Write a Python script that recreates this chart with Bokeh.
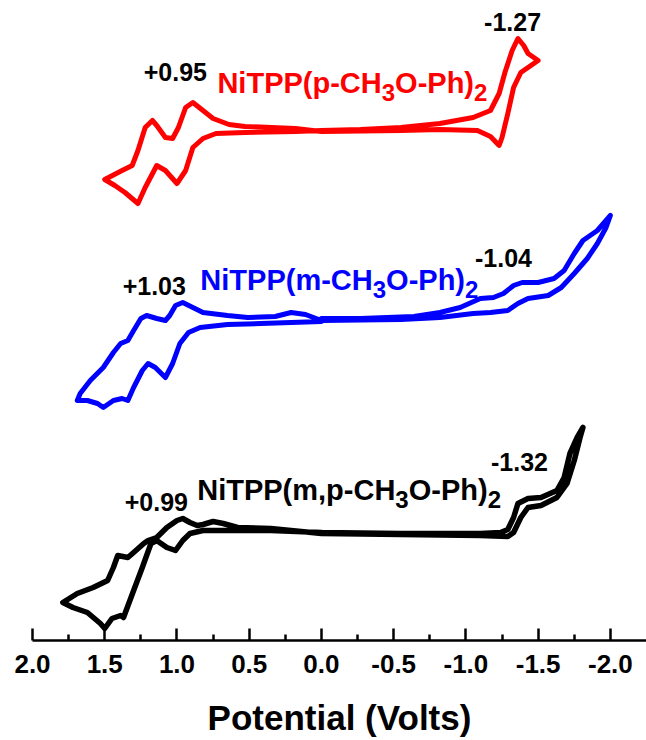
from bokeh.plotting import figure
from bokeh.models import Range1d, FixedTicker
from bokeh.core.properties import value
from bokeh.embed import file_html
from bokeh.resources import INLINE

# ---------------- data (potential in V, current in arbitrary offset units) ----------------
red_E = [0.00, -0.27, -0.55, -0.82, -1.05, -1.17, -1.23, -1.27, -1.32, -1.36, -1.40, -1.43, -1.50,
         -1.45, -1.38, -1.33, -1.29, -1.25, -1.23, -1.17, -1.08, -0.82, -0.55, 0.00,
         0.18, 0.53, 0.64, 0.75, 0.82, 0.89, 0.94, 0.99, 1.03, 1.08, 1.14, 1.17, 1.22, 1.27, 1.31, 1.38, 1.50,
         1.43, 1.36, 1.27, 1.22, 1.14, 1.08, 1.00, 0.94, 0.89, 0.82, 0.73, 0.53, 0.18, 0.00]
red_I = [51.0, 51.1, 51.3, 51.7, 52.3, 53.0, 54.7, 56.8, 59.0, 60.2, 59.5, 58.7, 58.0,
         57.5, 56.8, 55.3, 52.7, 50.3, 49.5, 50.4, 51.0, 51.1, 51.0, 50.9,
         51.2, 51.4, 51.6, 52.2, 53.0, 53.8, 53.3, 51.3, 50.2, 50.3, 51.5, 52.0, 51.3, 49.0, 47.5, 47.0, 46.1,
         45.5, 44.8, 43.7, 45.3, 47.5, 47.0, 45.7, 47.0, 49.3, 50.2, 50.7, 50.8, 50.9, 51.0]

blue_E = [0.00, -0.27, -0.64, -0.82, -0.96, -1.10, -1.19, -1.26, -1.33, -1.39, -1.50, -1.61, -1.68, -1.75,
          -1.81, -1.91, -2.00, -1.97, -1.91, -1.84, -1.75, -1.66, -1.57, -1.43, -1.36, -1.29, -1.17, -1.05,
          -0.82, -0.55, 0.00,
          0.11, 0.21, 0.32, 0.51, 0.65, 0.82, 0.89, 0.96, 1.01, 1.05, 1.08, 1.14, 1.21, 1.25, 1.30, 1.34,
          1.39, 1.44, 1.51, 1.60, 1.67, 1.69,
          1.62, 1.55, 1.51, 1.44, 1.38, 1.34, 1.30, 1.24, 1.20, 1.15, 1.08, 1.03, 0.98, 0.92, 0.84, 0.65,
          0.42, 0.00]
blue_I = [32.2, 32.2, 32.4, 32.8, 33.3, 34.2, 34.3, 34.7, 35.5, 35.8, 35.8, 36.2, 37.0, 38.7,
          40.0, 41.0, 42.5, 41.3, 39.7, 38.2, 36.7, 35.3, 34.5, 34.2, 33.7, 33.0, 32.8, 32.7,
          32.3, 32.1, 32.0,
          32.6, 32.8, 32.4, 32.3, 32.5, 32.8, 33.3, 33.8, 33.5, 32.5, 32.0, 32.2, 32.5, 32.2, 31.0, 30.0,
          29.7, 28.8, 27.3, 26.0, 24.7, 24.0,
          24.0, 23.7, 23.3, 24.0, 24.2, 24.0, 25.3, 27.0, 27.7, 27.3, 26.3, 27.7, 29.7, 30.8, 31.3, 31.6,
          31.7, 31.9]

black_E = [0.00, -0.55, -1.10, -1.24, -1.29, -1.33, -1.36, -1.43, -1.52, -1.63, -1.68, -1.72, -1.77, -1.81,
           -1.79, -1.75, -1.70, -1.63, -1.52, -1.43, -1.38, -1.33, -1.29, -1.10, -0.55, 0.00,
           0.35, 0.58, 0.68, 0.75, 0.82, 0.86, 0.91, 0.96, 1.00, 1.07, 1.14, 1.20, 1.23, 1.30, 1.34, 1.41,
           1.44, 1.48, 1.58, 1.69, 1.79,
           1.72, 1.62, 1.53, 1.50, 1.45, 1.39, 1.37, 1.30, 1.24, 1.18, 1.14, 1.07, 1.01, 0.96, 0.91, 0.82,
           0.58, 0.35, 0.00]
black_I = [10.8, 10.7, 10.7, 10.8, 11.1, 12.3, 13.7, 14.2, 14.3, 15.0, 16.3, 18.7, 20.3, 21.3,
           20.3, 18.0, 15.7, 14.3, 13.5, 13.3, 12.3, 10.8, 10.4, 10.5, 10.6, 10.7,
           11.2, 11.3, 11.7, 11.9, 11.6, 11.5, 11.8, 12.2, 12.0, 11.3, 10.3, 10.0, 9.7, 8.8, 8.3, 8.5,
           7.3, 6.0, 5.3, 4.7, 3.8,
           3.3, 2.8, 1.7, 1.2, 2.2, 2.5, 2.3, 5.0, 7.3, 9.7, 10.0, 9.3, 9.0, 10.0, 10.7, 11.0,
           11.0, 11.0, 10.8]

tick_values = [2.0, 1.5, 1.0, 0.5, 0.0, -0.5, -1.0, -1.5, -2.0]
tick_labels = ["2.0", "1.5", "1.0", "0.5", "0.0", "-0.5", "-1.0", "-1.5", "-2.0"]
minor_values = [1.75, 1.25, 0.75, 0.25, -0.25, -0.75, -1.25, -1.75]

peak_text = ["+0.95", "-1.27", "+1.03", "-1.04", "+0.99", "-1.32"]
peak_E = [1.011, -1.323, 1.157, -1.260, 1.143, -1.371]
peak_I = [56.9, 61.9, 35.5, 38.3, 13.9, 17.9]

name_head = ["NiTPP(p-CH", "NiTPP(m-CH", "NiTPP(m,p-CH"]
name_mid = "O-Ph)"
name_sub1 = "3"
name_sub2 = "2"
name_E = [0.720, 0.838, 0.860]
name_I = [55.8, 36.1, 15.1]
name_colors = ["#ff0000", "#0000ff", "#000000"]

# ---------------- figure ----------------
FONT = value("Liberation Sans")
p = figure(width=646, height=740, x_range=Range1d(2.0, -2.25), y_range=Range1d(0, 64),
           output_backend="svg", toolbar_location=None,
           min_border_left=32, min_border_right=0, min_border_top=0, min_border_bottom=100)
p.outline_line_color = None
p.grid.visible = False
p.yaxis.visible = False
p.background_fill_color = "white"

for E, I, c, lw in [(red_E, red_I, "#ff0000", 5), (blue_E, blue_I, "#0000ff", 5),
                    (black_E, black_I, "#000000", 5.5)]:
    p.line(E, I, line_color=c, line_width=lw, line_join="round", line_cap="round")

ax = p.xaxis[0]
ax.ticker = FixedTicker(ticks=tick_values, minor_ticks=minor_values)
ax.major_label_overrides = {v: s for v, s in zip(tick_values, tick_labels)}
ax.axis_line_width = 2.5
ax.axis_line_color = "black"
ax.major_tick_line_width = 2.5
ax.minor_tick_line_width = 2.5
ax.major_tick_line_color = "black"
ax.minor_tick_line_color = "black"
ax.major_tick_in = 12
ax.major_tick_out = 0
ax.minor_tick_in = 6
ax.minor_tick_out = 0
ax.major_label_text_font = "Liberation Sans"
ax.major_label_text_font_size = "26px"
ax.major_label_text_font_style = "bold"
ax.major_label_text_color = "black"
ax.major_label_standoff = 14
ax.axis_label = "Potential (Volts)"
ax.axis_label_text_font = "Liberation Sans"
ax.axis_label_text_font_size = "35px"
ax.axis_label_text_font_style = "bold"
ax.axis_label_text_color = "black"
ax.axis_label_standoff = 22

# peak potential labels
p.text(x=peak_E, y=peak_I, text=peak_text, text_font=FONT, text_font_style="bold",
       text_font_size="25px", text_color="black", text_align="center", text_baseline="alphabetic")

# compound names with lowered subscripts
W = {'N': 722, 'i': 278, 'T': 611, 'P': 667, '(': 333, 'p': 611, '-': 333, 'C': 722, 'H': 722,
     'O': 778, 'h': 611, ')': 333, 'm': 889, ',': 278, '3': 556, '2': 556}


def tw(s, size):
    return sum(W[ch] for ch in s) / 1000.0 * size


MAIN, SUB = 29, 24
for head, E, I, col in zip(name_head, name_E, name_I, name_colors):
    w1 = tw(head, MAIN)
    ws = tw(name_sub1, SUB)
    w2 = tw(name_mid, MAIN)
    kw = dict(text_font=FONT, text_font_style="bold", text_color=col, text_align="left",
              text_baseline="alphabetic")
    p.text(x=[E], y=[I], text=[head], text_font_size=f"{MAIN}px", **kw)
    p.text(x=[E], y=[I - 1.0], text=[name_sub1], text_font_size=f"{SUB}px", x_offset=w1, **kw)
    p.text(x=[E], y=[I], text=[name_mid], text_font_size=f"{MAIN}px", x_offset=w1 + ws, **kw)
    p.text(x=[E], y=[I - 1.0], text=[name_sub2], text_font_size=f"{SUB}px", x_offset=w1 + ws + w2, **kw)

open("out.html", "w").write(file_html(p, INLINE))
